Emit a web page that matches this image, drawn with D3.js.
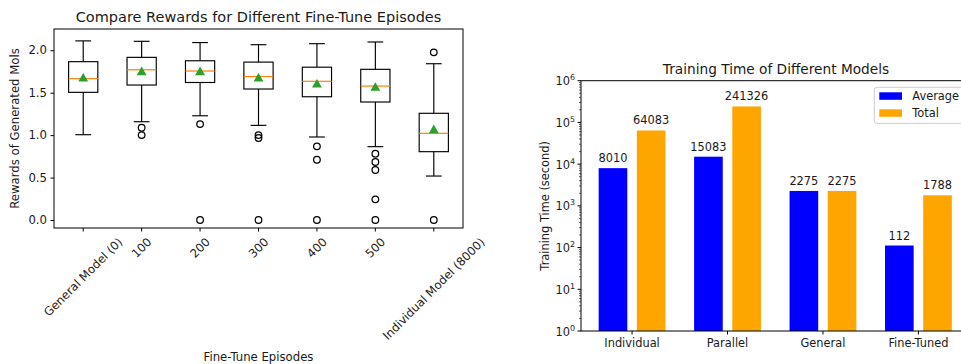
<!DOCTYPE html>
<html>
<head>
<meta charset="utf-8">
<script src="https://cdn.jsdelivr.net/npm/d3@7"></script>
<style>
  body { margin: 0; background: #fff; }
  svg { display: block; font-family: "DejaVu Sans", sans-serif; }
</style>
</head>
<body>
<svg id="chart" width="961" height="364"></svg>
<script>
// left panel: box stats
const episodes = ["General Model (0)", "100", "200", "300", "400", "500", "Individual Model (8000)"];
const whiskLo = [1.005, 1.158, 1.228, 1.115, 0.978, 0.864, 0.518];
const q1 = [1.504, 1.59, 1.62, 1.543, 1.452, 1.39, 0.805];
const median = [1.665, 1.77, 1.755, 1.69, 1.634, 1.578, 1.021];
const q3 = [1.865, 1.916, 1.876, 1.86, 1.8, 1.775, 1.257];
const whiskHi = [2.11, 2.105, 2.09, 2.065, 2.077, 2.097, 1.841];
const means = [1.665, 1.74, 1.74, 1.665, 1.594, 1.555, 1.057];
const outliers = [
  [],
  [1.087, 1.0],
  [1.13, 0],
  [1.0, 0.966, 0],
  [0.868, 0.71, 0],
  [0.78, 0.683, 0.589, 0.244, 0],
  [1.975, 0]
];
const rewardTicks = [0, 0.5, 1.0, 1.5, 2.0];

// right panel
const models = ["Individual", "Parallel", "General", "Fine-Tuned"];
const avgTime = [8010, 15083, 2275, 112];
const totalTime = [64083, 241326, 2275, 1788];
const timeTicks = [0, 1, 2, 3, 4, 5, 6];

const svg = d3.select("#chart");
const ink = "#1a1a1a";

// ---------- left: box plot ----------
const L = {left: 54, right: 463, top: 29, bottom: 228};
const x1 = d3.scaleLinear().domain([0.5, 7.5]).range([L.left, L.right]);
const y1 = d3.scaleLinear().domain([-0.094, 2.25]).range([L.bottom, L.top]);
const fsL = 11.7;
const lw = 1.15;

const gL = svg.append("g");
const boxW = 0.5, capW = 0.27;

episodes.forEach((name, i) => {
  const p = i + 1;
  const g = gL.append("g").attr("stroke-width", lw);
  // whiskers
  g.append("line").attr("x1", x1(p)).attr("x2", x1(p))
    .attr("y1", y1(q3[i])).attr("y2", y1(whiskHi[i])).attr("stroke", "#000");
  g.append("line").attr("x1", x1(p)).attr("x2", x1(p))
    .attr("y1", y1(q1[i])).attr("y2", y1(whiskLo[i])).attr("stroke", "#000");
  [whiskHi[i], whiskLo[i]].forEach(v => {
    g.append("line").attr("x1", x1(p - capW / 2)).attr("x2", x1(p + capW / 2))
      .attr("y1", y1(v)).attr("y2", y1(v)).attr("stroke", "#000");
  });
  // box
  g.append("rect")
    .attr("x", x1(p - boxW / 2)).attr("width", x1(p + boxW / 2) - x1(p - boxW / 2))
    .attr("y", y1(q3[i])).attr("height", y1(q1[i]) - y1(q3[i]))
    .attr("fill", "none").attr("stroke", "#000");
  g.append("line").attr("x1", x1(p - boxW / 2)).attr("x2", x1(p + boxW / 2))
    .attr("y1", y1(median[i])).attr("y2", y1(median[i]))
    .attr("stroke", "#ff7f0e").attr("stroke-width", 1.2);
  g.selectAll("circle.out").data(outliers[i]).join("circle")
    .attr("cx", x1(p)).attr("cy", d => y1(d)).attr("r", 3.3)
    .attr("fill", "none").attr("stroke", "#000").attr("stroke-width", 1.25);
  g.append("path")
    .attr("d", d3.symbol(d3.symbolTriangle, 42)())
    .attr("transform", `translate(${x1(p)},${y1(means[i])})`)
    .attr("fill", "#2ca02c").attr("stroke", "none");
});

gL.append("rect").attr("x", L.left).attr("y", L.top)
  .attr("width", L.right - L.left).attr("height", L.bottom - L.top)
  .attr("fill", "none").attr("stroke", "#000").attr("stroke-width", 1);

// y axis
const yAxL = gL.append("g").attr("transform", `translate(${L.left},0)`)
  .call(d3.axisLeft(y1).tickValues(rewardTicks).tickFormat(d3.format(".1f")).tickSize(3.5).tickPadding(3.5));
yAxL.select(".domain").remove();
yAxL.selectAll("text").attr("font-size", fsL).attr("fill", ink).attr("font-family", "DejaVu Sans");

// x ticks + rotated labels
episodes.forEach((name, i) => {
  const p = i + 1;
  gL.append("line").attr("x1", x1(p)).attr("x2", x1(p))
    .attr("y1", L.bottom).attr("y2", L.bottom + 3.5).attr("stroke", "#000");
  const lg = gL.append("g").attr("transform", `translate(${x1(p)},235)`);
  const inner = lg.append("g");
  inner.append("text").attr("text-anchor", "end").attr("transform", "rotate(-45)")
    .attr("font-size", fsL).attr("fill", ink).text(name);
  const bb = inner.node().getBBox();
  inner.attr("transform", `translate(${-bb.x - bb.width / 2},${-bb.y})`);
});

gL.append("text").attr("x", (L.left + L.right) / 2).attr("y", 21.5)
  .attr("text-anchor", "middle").attr("font-size", 14.5).attr("fill", ink)
  .text("Compare Rewards for Different Fine-Tune Episodes");
gL.append("text").attr("x", (L.left + L.right) / 2).attr("y", 361)
  .attr("text-anchor", "middle").attr("font-size", fsL).attr("fill", ink)
  .text("Fine-Tune Episodes");
gL.append("text").attr("transform", `translate(19,${(L.top + L.bottom) / 2}) rotate(-90)`)
  .attr("text-anchor", "middle").attr("font-size", fsL).attr("fill", ink)
  .text("Rewards of Generated Mols");

// ---------- right: log bar chart ----------
const R = {left: 581, right: 969.5, top: 80.7, bottom: 331};
const fsR = 11.4;
const x2 = d3.scaleLinear().domain([-0.535, 3.535]).range([R.left, R.right]);
const y2 = d3.scaleLog().domain([1, 1e6]).range([R.bottom, R.top]);
const barW = 0.3, off = 0.2;
const gR = svg.append("g");

const series = [
  {name: "Average", values: avgTime, color: "#0000ff", dx: -off},
  {name: "Total", values: totalTime, color: "#ffa500", dx: off}
];

series.forEach(s => {
  gR.selectAll(null).data(s.values).join("rect")
    .attr("x", (d, i) => x2(i + s.dx - barW / 2))
    .attr("width", x2(barW) - x2(0))
    .attr("y", d => y2(d))
    .attr("height", d => R.bottom - y2(d))
    .attr("fill", s.color);
  gR.selectAll(null).data(s.values).join("text")
    .attr("x", (d, i) => x2(i + s.dx))
    .attr("y", d => y2(d) - 6)
    .attr("text-anchor", "middle").attr("font-size", fsR).attr("fill", ink)
    .text(d => d);
});

gR.append("rect").attr("x", R.left).attr("y", R.top)
  .attr("width", R.right - R.left).attr("height", R.bottom - R.top)
  .attr("fill", "none").attr("stroke", "#000").attr("stroke-width", 1);

// log ticks: majors and minors
const minor = [];
for (let e = 0; e < 6; e++) for (let m = 2; m <= 9; m++) minor.push(m * Math.pow(10, e));
gR.selectAll("line.minor").data(minor).join("line")
  .attr("x1", R.left - 2).attr("x2", R.left)
  .attr("y1", d => y2(d)).attr("y2", d => y2(d))
  .attr("stroke", "#000").attr("stroke-width", 0.6);
timeTicks.forEach(e => {
  const yy = y2(Math.pow(10, e));
  gR.append("line").attr("x1", R.left - 3.5).attr("x2", R.left)
    .attr("y1", yy).attr("y2", yy).attr("stroke", "#000");
  const t = gR.append("text").attr("x", R.left - 6).attr("y", yy + 4.5)
    .attr("text-anchor", "end").attr("font-size", fsR).attr("fill", ink);
  t.append("tspan").text("10");
  t.append("tspan").attr("font-size", fsR * 0.7).attr("dy", -5).text(e);
});

models.forEach((m, i) => {
  gR.append("line").attr("x1", x2(i)).attr("x2", x2(i))
    .attr("y1", R.bottom).attr("y2", R.bottom + 3.5).attr("stroke", "#000");
  gR.append("text").attr("x", x2(i)).attr("y", R.bottom + 16)
    .attr("text-anchor", "middle").attr("font-size", fsR).attr("fill", ink).text(m);
});

gR.append("text").attr("x", 776).attr("y", 74)
  .attr("text-anchor", "middle").attr("font-size", 13.7).attr("fill", ink)
  .text("Training Time of Different Models");
gR.append("text").attr("transform", `translate(549,${(R.top + R.bottom) / 2}) rotate(-90)`)
  .attr("text-anchor", "middle").attr("font-size", fsR).attr("fill", ink)
  .text("Training Time (second)");

// legend
const leg = gR.append("g").attr("transform", "translate(874.3,87.3)");
leg.append("rect").attr("width", 100).attr("height", 36).attr("rx", 2.5)
  .attr("fill", "#fff").attr("fill-opacity", 0.8).attr("stroke", "#ccc");
series.forEach((s, i) => {
  leg.append("rect").attr("x", 5).attr("y", 5 + i * 17).attr("width", 22.7).attr("height", 7.5)
    .attr("fill", s.color);
  leg.append("text").attr("x", 38).attr("y", 13 + i * 17)
    .attr("font-size", fsR).attr("fill", ink).text(s.name);
});
</script>
</body>
</html>
